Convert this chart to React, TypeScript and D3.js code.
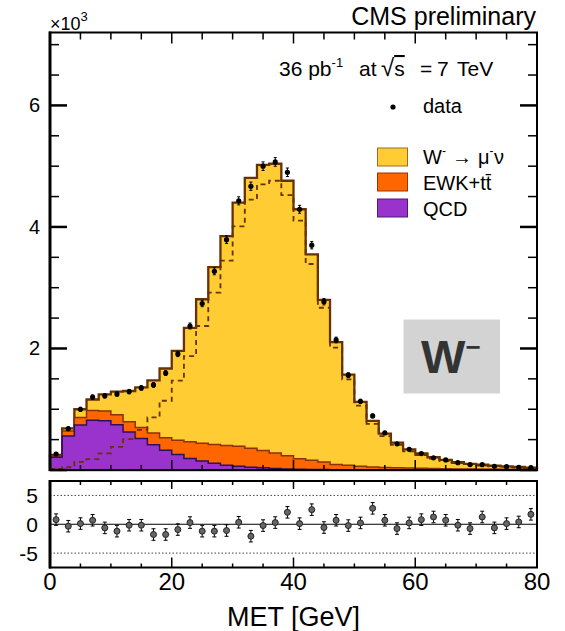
import React from "react";
import * as d3 from "d3";

// ---- data (events per 2 GeV bin) ----
const binLow = 0;
const binHigh = 80;
const binWidth = 2;
const qcd = [210, 560, 740, 820, 810, 745, 625, 520, 415, 325, 255, 190, 150, 110, 78, 60, 45, 35, 25, 18, 13, 10, 8, 6, 5, 4, 3, 3, 2, 2, 2, 1, 1, 1, 1, 1, 1, 1, 1, 1];
const ewk = [20, 80, 125, 160, 160, 165, 168, 180, 195, 205, 235, 275, 290, 310, 327, 330, 312, 285, 255, 217, 173, 150, 122, 84, 72, 56, 47, 40, 35, 30, 26, 22, 19, 16, 14, 12, 10, 9, 8, 7];
const wsig = [18, 45, 135, 180, 275, 380, 507, 660, 865, 1140, 1470, 1875, 2370, 2920, 3445, 4010, 4450, 4700, 4760, 4525, 4105, 3390, 2670, 2015, 1493, 1060, 760, 557, 413, 308, 247, 187, 145, 113, 85, 74, 59, 50, 41, 32];
const dataCounts = [263, 680, 1000, 1200, 1220, 1250, 1290, 1350, 1400, 1595, 1910, 2370, 2740, 3270, 3790, 4430, 4670, 5000, 5070, 4900, 4290, 3700, 2770, 2140, 1560, 1130, 890, 610, 430, 340, 270, 200, 165, 120, 90, 87, 60, 55, 45, 40];
const pulls = [0.8, -0.34, 0.12, 0.69, -0.63, -1.2, -0.17, -0.17, -1.78, -1.78, -0.92, 0.29, -1.2, -1.2, -1.09, 0.34, -2.07, -0.23, 0.29, 2.07, 0.11, 2.53, -0.57, 0.69, -0.23, 0.23, 2.76, 0.69, -0.75, 0.23, 0.8, 1.26, 0.69, -0.17, -0.75, 1.26, -0.63, 0.11, 0.4, 1.72];
const pullErr = 1;
const yMainTicks = [2000, 4000, 6000];
const yMainTickLabels = ["2", "4", "6"];
const yRatioTicks = [5, 0, -5];
const yRatioTickLabels = ["5", "0", "-5"];
const xTicks = [0, 20, 40, 60, 80];

const FONT = "'Liberation Sans', Arial, Helvetica, sans-serif";
const C_W = "#ffcc33", C_W_LINE = "#663300";
const C_EWK = "#ff6600", C_EWK_LINE = "#8a3300";
const C_QCD = "#9933cc", C_QCD_LINE = "#2e0f5c";

export default function App() {
  const x = d3.scaleLinear().domain([binLow, binHigh]).range([50, 537]);
  const y = d3.scaleLinear().domain([0, 7200]).range([470, 32.5]);
  const yr = d3.scaleLinear().domain([-7.5, 7.5]).range([567.5, 481]);
  const edges = d3.range(binLow, binHigh + binWidth, binWidth);
  const centers = edges.slice(0, -1).map((e) => e + binWidth / 2);

  const sumQE = qcd.map((q, i) => q + ewk[i]);
  const total = sumQE.map((s, i) => s + wsig[i]);

  const line = d3.line<[number, number]>().x((d) => x(d[0])).y((d) => y(d[1]));
  const closedStep = (vals: number[]) => {
    const pts: [number, number][] = [[edges[0], 0]];
    vals.forEach((v, i) => {
      pts.push([edges[i], v]);
      pts.push([edges[i + 1], v]);
    });
    pts.push([edges[vals.length], 0]);
    return line(pts) + "Z";
  };
  const openStep = (vals: number[]) => {
    const pts: [number, number][] = [];
    vals.forEach((v, i) => {
      pts.push([edges[i], v]);
      pts.push([edges[i + 1], v]);
    });
    return line(pts);
  };

  const xMinor = d3.range(0, 81, 5);
  const yMinor = d3.range(0, 7200, 500);
  const top = 32.5, bot = 470, left = 50, right = 537;
  const rTop = 481, rBot = 567.5;

  return (
    <svg width={565} height={631} style={{ position: "absolute", left: 0, top: 0, background: "#fff" }} fontFamily={FONT}>
      {/* stacked histograms */}
      <path d={closedStep(total)} fill={C_W} stroke={C_W_LINE} strokeWidth={2.3} />
      <path d={closedStep(sumQE)} fill={C_EWK} stroke={C_EWK_LINE} strokeWidth={1.5} />
      <path d={closedStep(qcd)} fill={C_QCD} stroke={C_QCD_LINE} strokeWidth={1.5} />
      <path d={openStep(wsig) || ""} fill="none" stroke={C_W_LINE} strokeWidth={1.8} strokeDasharray="5,4" />

      {/* data */}
      {dataCounts.map((v, i) => {
        const e = Math.sqrt(v);
        const cx = x(centers[i]);
        return (
          <g key={"d" + i}>
            <line x1={cx} x2={cx} y1={y(v - e)} y2={y(v + e)} stroke="#000" strokeWidth={1} />
            <line x1={cx - 1.5} x2={cx + 1.5} y1={y(v - e)} y2={y(v - e)} stroke="#000" strokeWidth={1} />
            <line x1={cx - 1.5} x2={cx + 1.5} y1={y(v + e)} y2={y(v + e)} stroke="#000" strokeWidth={1} />
            <circle cx={cx} cy={y(v)} r={2.6} fill="#000" />
          </g>
        );
      })}

      {/* main frame */}
      <rect x={left} y={top} width={right - left} height={bot - top} fill="none" stroke="#000" strokeWidth={2} />
      <line x1={left} x2={left} y1={top - 1} y2={bot + 1} stroke="#000" strokeWidth={3} />
      {yMinor.map((t) => {
        const major = t % 2000 === 0;
        const len = major ? 17 : 9;
        return (
          <g key={"ym" + t}>
            <line x1={left} x2={left + len} y1={y(t)} y2={y(t)} stroke="#000" strokeWidth={major ? 2.5 : 1.5} />
            <line x1={right} x2={right - len} y1={y(t)} y2={y(t)} stroke="#000" strokeWidth={major ? 2.5 : 1.5} />
          </g>
        );
      })}
      {xMinor.map((t) => {
        const major = t % 20 === 0;
        return (
          <g key={"xm" + t}>
            <line x1={x(t)} x2={x(t)} y1={top} y2={top + (major ? 11 : 7)} stroke="#000" strokeWidth={1.5} />
            <line x1={x(t)} x2={x(t)} y1={bot} y2={bot - (major ? 10 : 5)} stroke="#000" strokeWidth={1.5} />
            <line x1={x(t)} x2={x(t)} y1={rTop} y2={rTop + (major ? 8 : 4)} stroke="#000" strokeWidth={1.5} />
            <line x1={x(t)} x2={x(t)} y1={rBot} y2={rBot - (major ? 10 : 4)} stroke="#000" strokeWidth={1.5} />
          </g>
        );
      })}
      {yMainTicks.map((t, i) => (
        <text key={"yl" + t} x={40} y={y(t) + 7} fontSize={20} textAnchor="end">{yMainTickLabels[i]}</text>
      ))}
      <text x={50} y={30} fontSize={18}>×10<tspan fontSize={13} dy={-9}>3</tspan></text>

      {/* header */}
      <text x={536} y={25} fontSize={25} textAnchor="end">CMS preliminary</text>
      <text y={76} fontSize={21}>
        <tspan x={279}>36 pb</tspan><tspan fontSize={13} dy={-9}>-1</tspan>
        <tspan x={359} dy={9}>at</tspan>
        <tspan x={381} fontSize={24}>√</tspan><tspan textDecoration="overline">s</tspan>
        <tspan x={420}>=</tspan>
        <tspan x={437}>7</tspan>
        <tspan x={457}>TeV</tspan>
      </text>

      {/* legend */}
      <circle cx={393} cy={107} r={2.6} fill="#000" />
      <text x={423} y={113} fontSize={20}>data</text>
      <rect x={377.5} y={148} width={30} height={18} fill={C_W} stroke="#9b6a2a" strokeWidth={1} />
      <text y={164} fontSize={20}>
        <tspan x={423}>W</tspan><tspan fontSize={12} dy={-9}>-</tspan>
        <tspan x={452} dy={9}>→</tspan>
        <tspan x={478}>μ</tspan><tspan fontSize={12} dy={-9}>-</tspan>
        <tspan x={494} dy={9}>ν</tspan>
      </text>
      <rect x={377.5} y={173} width={30} height={18} fill={C_EWK} stroke="#993300" strokeWidth={1} />
      <text x={423} y={190} fontSize={20}>EWK+t{"t\u0304"}</text>
      <rect x={377.5} y={199} width={30} height={18} fill={C_QCD} stroke="#4a1a7a" strokeWidth={1} />
      <text x={423} y={216} fontSize={20}>QCD</text>

      {/* W- label box */}
      <rect x={403.5} y={319.5} width={96.5} height={74} fill="#d3d3d3" />
      <text x={421} y={373} fontSize={47} fontWeight="bold" fill="#333">
        W<tspan fontSize={26} dy={-17}>−</tspan>
      </text>

      {/* ratio panel */}
      {yRatioTicks.map((t) => (
        <line key={"rl" + t} x1={left} x2={right} y1={yr(t)} y2={yr(t)} stroke={t === 0 ? "#000" : "#444"}
          strokeWidth={1} strokeDasharray={t === 0 ? undefined : "1.5,2"} />
      ))}
      {pulls.map((p, i) => {
        const cx = x(centers[i]);
        return (
          <g key={"p" + i}>
            <line x1={cx} x2={cx} y1={yr(p - pullErr)} y2={yr(p + pullErr)} stroke="#000" strokeWidth={1} />
            <line x1={cx - 2} x2={cx + 2} y1={yr(p - pullErr)} y2={yr(p - pullErr)} stroke="#000" strokeWidth={1} />
            <line x1={cx - 2} x2={cx + 2} y1={yr(p + pullErr)} y2={yr(p + pullErr)} stroke="#000" strokeWidth={1} />
            <circle cx={cx} cy={yr(p)} r={3} fill="#666" stroke="#222" strokeWidth={1} />
          </g>
        );
      })}
      <rect x={left} y={rTop} width={right - left} height={rBot - rTop} fill="none" stroke="#000" strokeWidth={2} />
      <line x1={left} x2={left} y1={rTop - 1} y2={rBot + 1} stroke="#000" strokeWidth={3} />
      {yRatioTicks.map((t, i) => (
        <text key={"ryl" + t} x={38} y={yr(t) + 7.5} fontSize={21} textAnchor="end">{yRatioTickLabels[i]}</text>
      ))}
      {xTicks.map((t) => (
        <text key={"xl" + t} x={x(t)} y={590} fontSize={24} textAnchor="middle">{t}</text>
      ))}
      <text x={x(40)} y={626} fontSize={27} textAnchor="middle">MET [GeV]</text>
    </svg>
  );
}
